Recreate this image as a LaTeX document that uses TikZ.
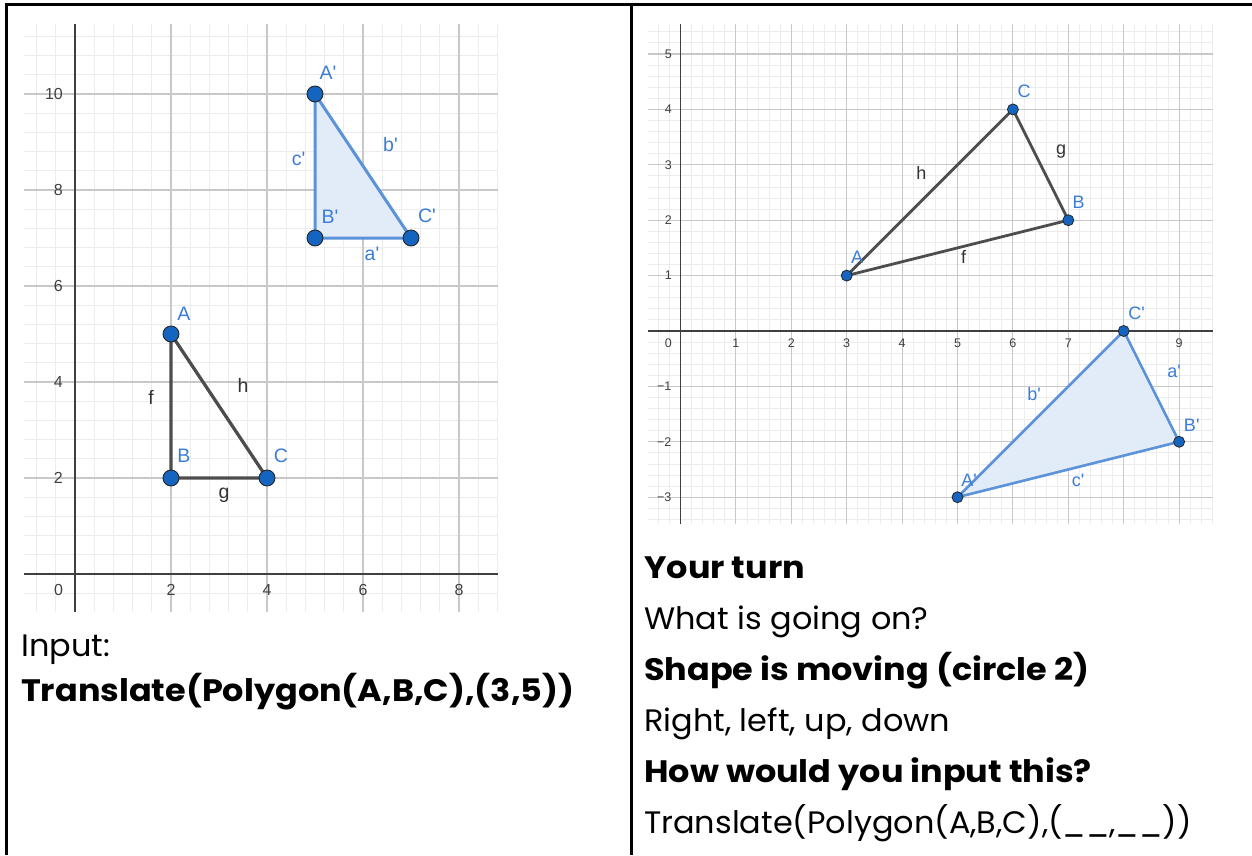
\documentclass[tikz,border=0pt]{standalone}
\usepackage{fontspec}
\setmainfont{Poppins}[FakeStretch=1.03, BoldFeatures={FakeStretch=1.08}]
\newfontfamily\geo{Liberation Sans}
\definecolor{ptblue}{RGB}{21,101,192}
\definecolor{lblblue}{RGB}{59,125,216}
\definecolor{triblue}{RGB}{91,146,217}
\definecolor{trifill}{RGB}{226,236,248}
\definecolor{tridark}{RGB}{77,77,77}
\definecolor{gmin}{RGB}{236,236,236}
\definecolor{gmaj}{RGB}{200,200,200}
\begin{document}
\begin{tikzpicture}[x=1pt,y=-1pt,
  minor/.style={draw=gmin, line width=0.9pt},
  major/.style={draw=gmaj, line width=1.1pt},
  axisline/.style={draw=black!75, line width=1.3pt},
  tickL/.style={font=\geo\fontsize{16}{16}\selectfont, text=black!75, inner sep=0pt},
  tickR/.style={font=\geo\fontsize{12.5}{12.5}\selectfont, text=black!75, inner sep=0pt},
  ptL/.style={circle, fill=ptblue, draw=black!85, line width=0.9pt, minimum size=16pt, inner sep=0pt},
  ptR/.style={circle, fill=ptblue, draw=black!85, line width=0.8pt, minimum size=11pt, inner sep=0pt},
  lblL/.style={font=\geo\fontsize{19.5}{19.5}\selectfont, inner sep=0pt},
  lblR/.style={font=\geo\fontsize{18}{18}\selectfont, inner sep=0pt},
  darkedge/.style={draw=tridark, line width=3.3pt, line join=round},
  blueedge/.style={draw=triblue, line width=3pt, line join=round, fill=trifill},
  frame/.style={draw=black, line width=2.7pt},
  txt/.style={anchor=base west, inner sep=0pt, font=\fontsize{31}{31}\selectfont},
  txtb/.style={txt, font=\fontsize{31}{31}\selectfont\bfseries}
]
\useasboundingbox (0,0) rectangle (1252,855);
\fill[white] (0,0) rectangle (1252,855);

% ---------------- left graph ----------------
\begin{scope}[shift={(75,574)}, x=48pt, y=48pt]
  \foreach \i in {-2,...,22} \draw[minor] (\i*0.4,-0.79) -- (\i*0.4,11.46);
  \foreach \i in {-1,...,28} \draw[minor] (-1.06,\i*0.4) -- (8.81,\i*0.4);
  \foreach \v in {2,4,6,8} \draw[major] (\v,-0.79) -- (\v,11.46);
  \foreach \v in {2,4,6,8,10} \draw[major] (-1.06,\v) -- (8.81,\v);
  \draw[axisline] (-1.06,0) -- (8.81,0);
  \draw[axisline] (0,-0.79) -- (0,11.46);
  \foreach \v in {2,4,6,8} \node[tickL] (lx\v) at (\v,-0.33) {\v};
  \node[tickL] (lx0) at (-0.34,-0.33) {0};
  \foreach \v in {2,4,6,8,10} \node[tickL, anchor=east] (ly\v) at (-0.25,\v) {\v};
  \coordinate (LA) at (2,5);
  \coordinate (LB) at (2,2);
  \coordinate (LC) at (4,2);
  \coordinate (LA2) at (5,10);
  \coordinate (LB2) at (5,7);
  \coordinate (LC2) at (7,7);
  \draw[blueedge] (LA2) -- (LB2) -- (LC2) -- cycle;
  \draw[darkedge] (LA) -- (LB) -- (LC) -- cycle;
  \foreach \p in {LA,LB,LC,LA2,LB2,LC2} \node[ptL] (pt\p) at (\p) {};
\end{scope}
\node[lblL, text=lblblue] (lA) at (184,313.7) {A};
\node[lblL, text=lblblue] (lB) at (184,456) {B};
\node[lblL, text=lblblue] (lC) at (281,456) {C};
\node[lblL, text=black!80] (lf) at (151,397) {f};
\node[lblL, text=black!80] (lh) at (243,385) {h};
\node[lblL, text=black!80] (lg) at (224,495) {g};
\node[lblL, text=lblblue] (lA2) at (328,72.5) {A'};
\node[lblL, text=lblblue] (lB2) at (330,216.5) {B'};
\node[lblL, text=lblblue] (lC2) at (427,215.5) {C'};
\node[lblL, text=lblblue] (lb2) at (390.5,145) {b'};
\node[lblL, text=lblblue] (la2) at (372,253.5) {a'};
\node[lblL, text=lblblue] (lc2) at (298.7,159) {c'};

% ---------------- right graph ----------------
\begin{scope}[shift={(680.5,331)}, x=55.4pt, y=55.4pt]
  \foreach \i in {-2,...,48} \draw[minor] (\i*0.2,-3.48) -- (\i*0.2,5.54);
  \foreach \i in {-17,...,27} \draw[minor] (-0.59,\i*0.2) -- (9.61,\i*0.2);
  \foreach \v in {1,...,9} \draw[major] (\v,-3.48) -- (\v,5.54);
  \foreach \v in {-3,-2,-1,1,2,3,4,5} \draw[major] (-0.59,\v) -- (9.61,\v);
  \draw[axisline] (-0.59,0) -- (9.61,0);
  \draw[axisline] (0,-3.48) -- (0,5.54);
  \foreach \v in {1,...,9} \node[tickR] (rx\v) at (\v,-0.22) {\v};
  \node[tickR] (rx0) at (-0.22,-0.22) {0};
  \foreach \v in {1,...,5} \node[tickR] (ry\v) at (-0.22,\v) {\v};
  \foreach \v in {1,2,3} \node[tickR, anchor=east] (ryn\v) at (-0.16,-\v) {−\v};
  \coordinate (RA) at (3,1);
  \coordinate (RB) at (7,2);
  \coordinate (RC) at (6,4);
  \coordinate (RA2) at (5,-3);
  \coordinate (RB2) at (9,-2);
  \coordinate (RC2) at (8,0);
  \draw[blueedge, line width=2.6pt] (RA2) -- (RB2) -- (RC2) -- cycle;
  \draw[darkedge, line width=2.8pt] (RA) -- (RB) -- (RC) -- cycle;
  \foreach \p in {RA,RB,RC,RA2,RB2,RC2} \node[ptR] (pt\p) at (\p) {};
\end{scope}
\node[lblR, text=lblblue] (rA) at (857,257.5) {A};
\node[lblR, text=lblblue] (rB) at (1078.7,202) {B};
\node[lblR, text=lblblue] (rC) at (1024,91.7) {C};
\node[lblR, text=black!80] (rh) at (921.3,173) {h};
\node[lblR, text=black!80] (rg) at (1061,152) {g};
\node[lblR, text=black!80] (rf) at (963.5,257) {f};
\node[lblR, text=lblblue] (rA2) at (969,480) {A'};
\node[lblR, text=lblblue] (rB2) at (1191.7,425) {B'};
\node[lblR, text=lblblue] (rC2) at (1136.7,313.3) {C'};
\node[lblR, text=lblblue] (ra2) at (1174,371) {a'};
\node[lblR, text=lblblue] (rb2) at (1034,393.7) {b'};
\node[lblR, text=lblblue] (rc2) at (1078,480.3) {c'};

% ---------------- frame ----------------
\draw[frame] (5.2,4.7) -- (1252,4.7);
\draw[frame] (6.5,3.4) -- (6.5,855);
\draw[frame] (631.5,3.4) -- (631.5,855);

% ---------------- texts ----------------
\node[txt]  (t1) at (21,656.7) {Input:};
\node[txtb] (t2) at (21,701.7) {Translate(Polygon(A,B,C),(3,5))};
\node[txtb] (r1) at (644,578) {Your turn};
\node[txt]  (r2) at (644,629) {What is going on?};
\node[txtb] (r3) at (644,680) {Shape is moving (circle 2)};
\node[txt]  (r4) at (644,731) {Right, left, up, down};
\node[txtb] (r5) at (644,782) {How would you input this?};
\node[txt]  (r6) at (644,833) {Translate(Polygon(A,B,C),(\_\_,\_\_))};
\end{tikzpicture}
\end{document}
